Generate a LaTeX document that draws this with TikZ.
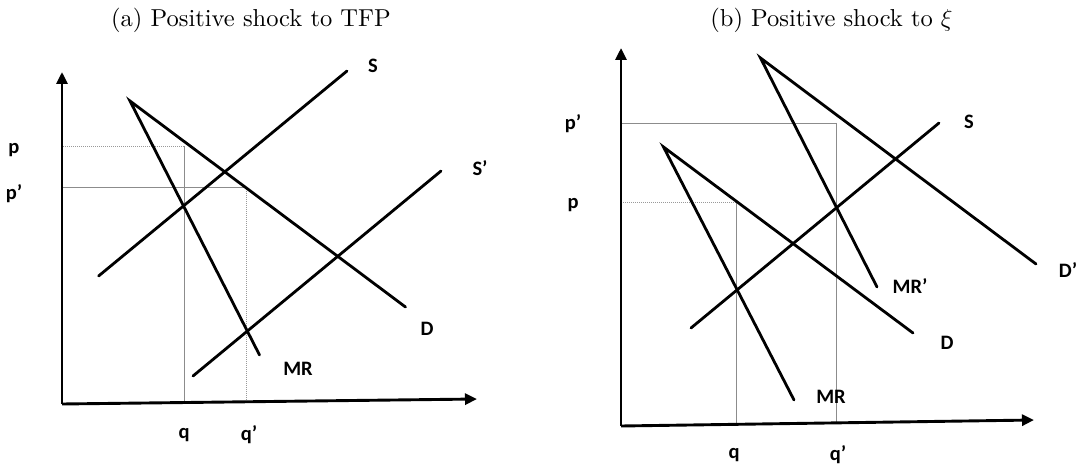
\RequirePackage{fix-cm}
\documentclass[tikz,border=0pt]{standalone}
\usepackage{fontspec}
\newfontfamily\lab{Carlito}
\newfontfamily\ttlfont{lmroman10-regular.otf}
\usetikzlibrary{arrows.meta}
\begin{document}
\begin{tikzpicture}[x=1pt,y=-1pt,
  curve/.style={line width=2.8pt, line cap=round},
  axis/.style={line width=2.9pt, -{Triangle[length=12pt,width=11pt]}},
  guide/.style={line width=0.9pt, draw=black!45},
  dotguide/.style={line width=0.9pt, draw=black!40, dash pattern=on 1pt off 1pt},
  lbl/.style={font=\lab\bfseries\fontsize{20.5}{24}\selectfont, inner sep=0pt},
  ttl/.style={font=\ttlfont\fontsize{24.5}{29}\selectfont, inner sep=0pt}]
\useasboundingbox (0,0) rectangle (1081,468);

% ---------- panel (a) ----------
\node[ttl] (ta) at (251,20) {(a) Positive shock to TFP};
\coordinate (aO) at (62,404);
\coordinate (aY) at (62,72);
\coordinate (aX) at (477,399);
% guides
\coordinate (apL) at (63,146);  \coordinate (apR) at (184,146); \coordinate (aqB) at (184,402.5);
\coordinate (appL) at (63,187); \coordinate (appR) at (246,187); \coordinate (aqqB) at (246,401);
\draw[dotguide] (apL) -- (apR);
\draw[guide] (apR) -- (aqB);
\draw[guide] (appL) -- (appR);
\draw[dotguide] (appR) -- (aqqB);
% axes
\draw[axis] (aO) -- (aY);
\draw[axis] (aO) -- (aX);
% curves
\coordinate (aS1) at (98.6,276); \coordinate (aS2) at (347,71);
\coordinate (aT1) at (193,376);  \coordinate (aT2) at (441,171);
\coordinate (aA)  at (130,101);
\coordinate (aD2) at (405.5,307);
\coordinate (aM2) at (259.5,355);
\draw[curve] (aS1) -- (aS2);
\draw[curve] (aT1) -- (aT2);
\draw[curve] (aD2) -- (aA) -- (aM2);
% labels
\node[lbl] (alp)  at (14,150) {p};
\node[lbl] (alpp) at (14,194) {p’};
\node[lbl] (alS)  at (373,66) {S};
\node[lbl] (alSp) at (480,168) {S’};
\node[lbl] (alD)  at (427,329) {D};
\node[lbl] (alMR) at (298,369) {MR};
\node[lbl] (alq)  at (184,435) {q};
\node[lbl] (alqp) at (249,435) {q’};

% ---------- panel (b) ----------
\node[ttl] (tb) at (831.5,20) {(b) Positive shock to $\xi$};
\coordinate (bO) at (621,426);
\coordinate (bY) at (621,48);
\coordinate (bX) at (1034,420);
\coordinate (bppL) at (621,123); \coordinate (bppR) at (836.5,123); \coordinate (bqqB) at (836.5,421.5);
\coordinate (bpL) at (621,202);  \coordinate (bpR) at (736.5,202);  \coordinate (bqB) at (736.5,423.5);
\draw[guide] (bppL) -- (bppR);
\draw[guide] (bppR) -- (bqqB);
\draw[dotguide] (bpL) -- (bpR);
\draw[guide] (bpR) -- (bqB);
\draw[axis] (bO) -- (bY);
\draw[axis] (bO) -- (bX);
\coordinate (bS1) at (691,328);   \coordinate (bS2) at (939,123);
\coordinate (bA)  at (663.5,147);
\coordinate (bD2) at (913,333);
\coordinate (bM2) at (794,400);
\coordinate (bB)  at (760.5,58);
\coordinate (bE2) at (1036,264);
\coordinate (bN2) at (877,287);
\draw[curve] (bS1) -- (bS2);
\draw[curve] (bD2) -- (bA) -- (bM2);
\draw[curve] (bE2) -- (bB) -- (bN2);
\node[lbl] (blpp) at (573,124) {p’};
\node[lbl] (blp)  at (573,205) {p};
\node[lbl] (blS)  at (969,122) {S};
\node[lbl] (blDp) at (1068,270) {D’};
\node[lbl] (blMRp) at (910,286) {MR’};
\node[lbl] (blD)  at (947,343) {D};
\node[lbl] (blMR) at (831,397) {MR};
\node[lbl] (blq)  at (734,455) {q};
\node[lbl] (blqp) at (838,455) {q’};
\end{tikzpicture}
\end{document}
